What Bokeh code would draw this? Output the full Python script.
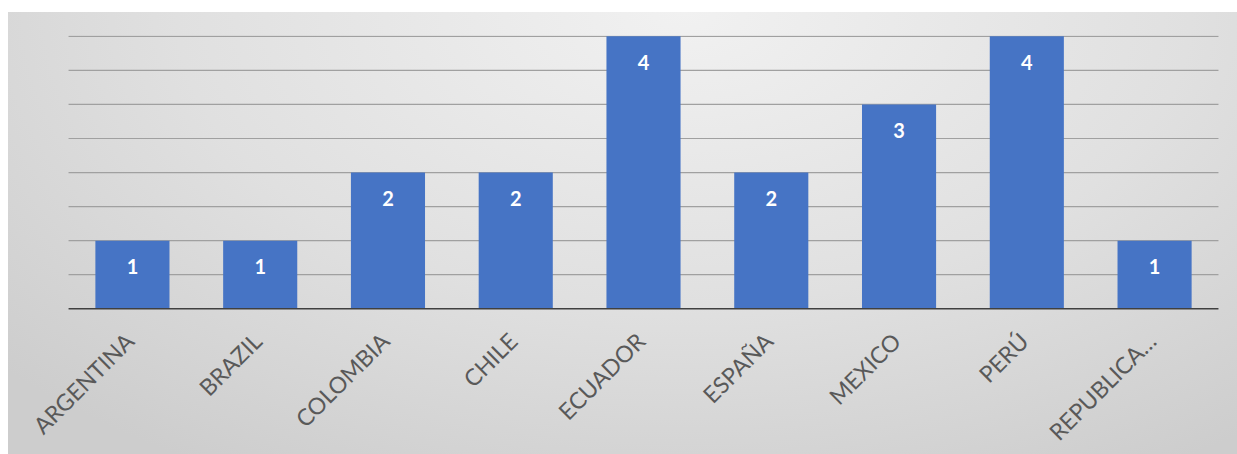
import math
from bokeh.plotting import figure
from bokeh.models import ColumnDataSource, Range1d
from bokeh.core.properties import value
from bokeh.embed import file_html
from bokeh.resources import INLINE

categories = ["ARGENTINA", "BRAZIL", "COLOMBIA", "CHILE", "ECUADOR", "ESPAÑA", "MEXICO", "PERÚ", "REPUBLICA…"]
counts = [1, 1, 2, 2, 4, 2, 3, 4, 1]
labels = [str(v) for v in counts]
grid_values = [0.5, 1.0, 1.5, 2.0, 2.5, 3.0, 3.5, 4.0]

n = len(categories)
xs = [i + 0.5 for i in range(n)]
src = ColumnDataSource(dict(x=xs, cat=categories, val=counts, lab=labels, base=[0] * n))
grid_src = ColumnDataSource(dict(gy=grid_values))

p = figure(
    x_range=Range1d(-0.47, n + 0.149),
    y_range=Range1d(-2.14, 4.012),
    width=1229, height=442,
    output_backend="svg", toolbar_location=None,
    min_border_left=0, min_border_right=0, min_border_top=23, min_border_bottom=0,
)
p.styles = {
    "margin-top": "12px",
    "margin-left": "8px",
    "background": "radial-gradient(ellipse 75% 120% at 55% 0%, #f1f1f1 0%, #e0e0e0 55%, #cdcdcd 100%)",
}
p.border_fill_alpha = 0
p.background_fill_alpha = 0
p.outline_line_color = None
p.xgrid.visible = False
p.ygrid.visible = False
p.xaxis.visible = False
p.yaxis.visible = False

# horizontal gridlines across the category extent
p.segment(x0=0, y0="gy", x1=n, y1="gy", source=grid_src, line_color="#a0a0a0", line_width=1.2)

p.vbar(x="x", top="val", width=0.58, source=src, color="#4674C5", line_color=None)

# category axis baseline
p.segment(x0=0, y0=0, x1=n, y1=0, line_color="#404040", line_width=1.5)

p.text(x="x", y="val", text="lab", source=src, text_color="white",
       text_font=value("Lato"), text_font_style="bold", text_font_size="20px",
       text_align="center", text_baseline="middle", y_offset=26)

p.text(x="x", y="base", text="cat", source=src,
       angle=math.pi / 4, text_align="right", text_baseline="middle",
       x_offset=-3, y_offset=28,
       text_font=value("Lato"), text_font_size="23px", text_color="#595959")

open("out.html", "w").write(file_html(p, INLINE))
